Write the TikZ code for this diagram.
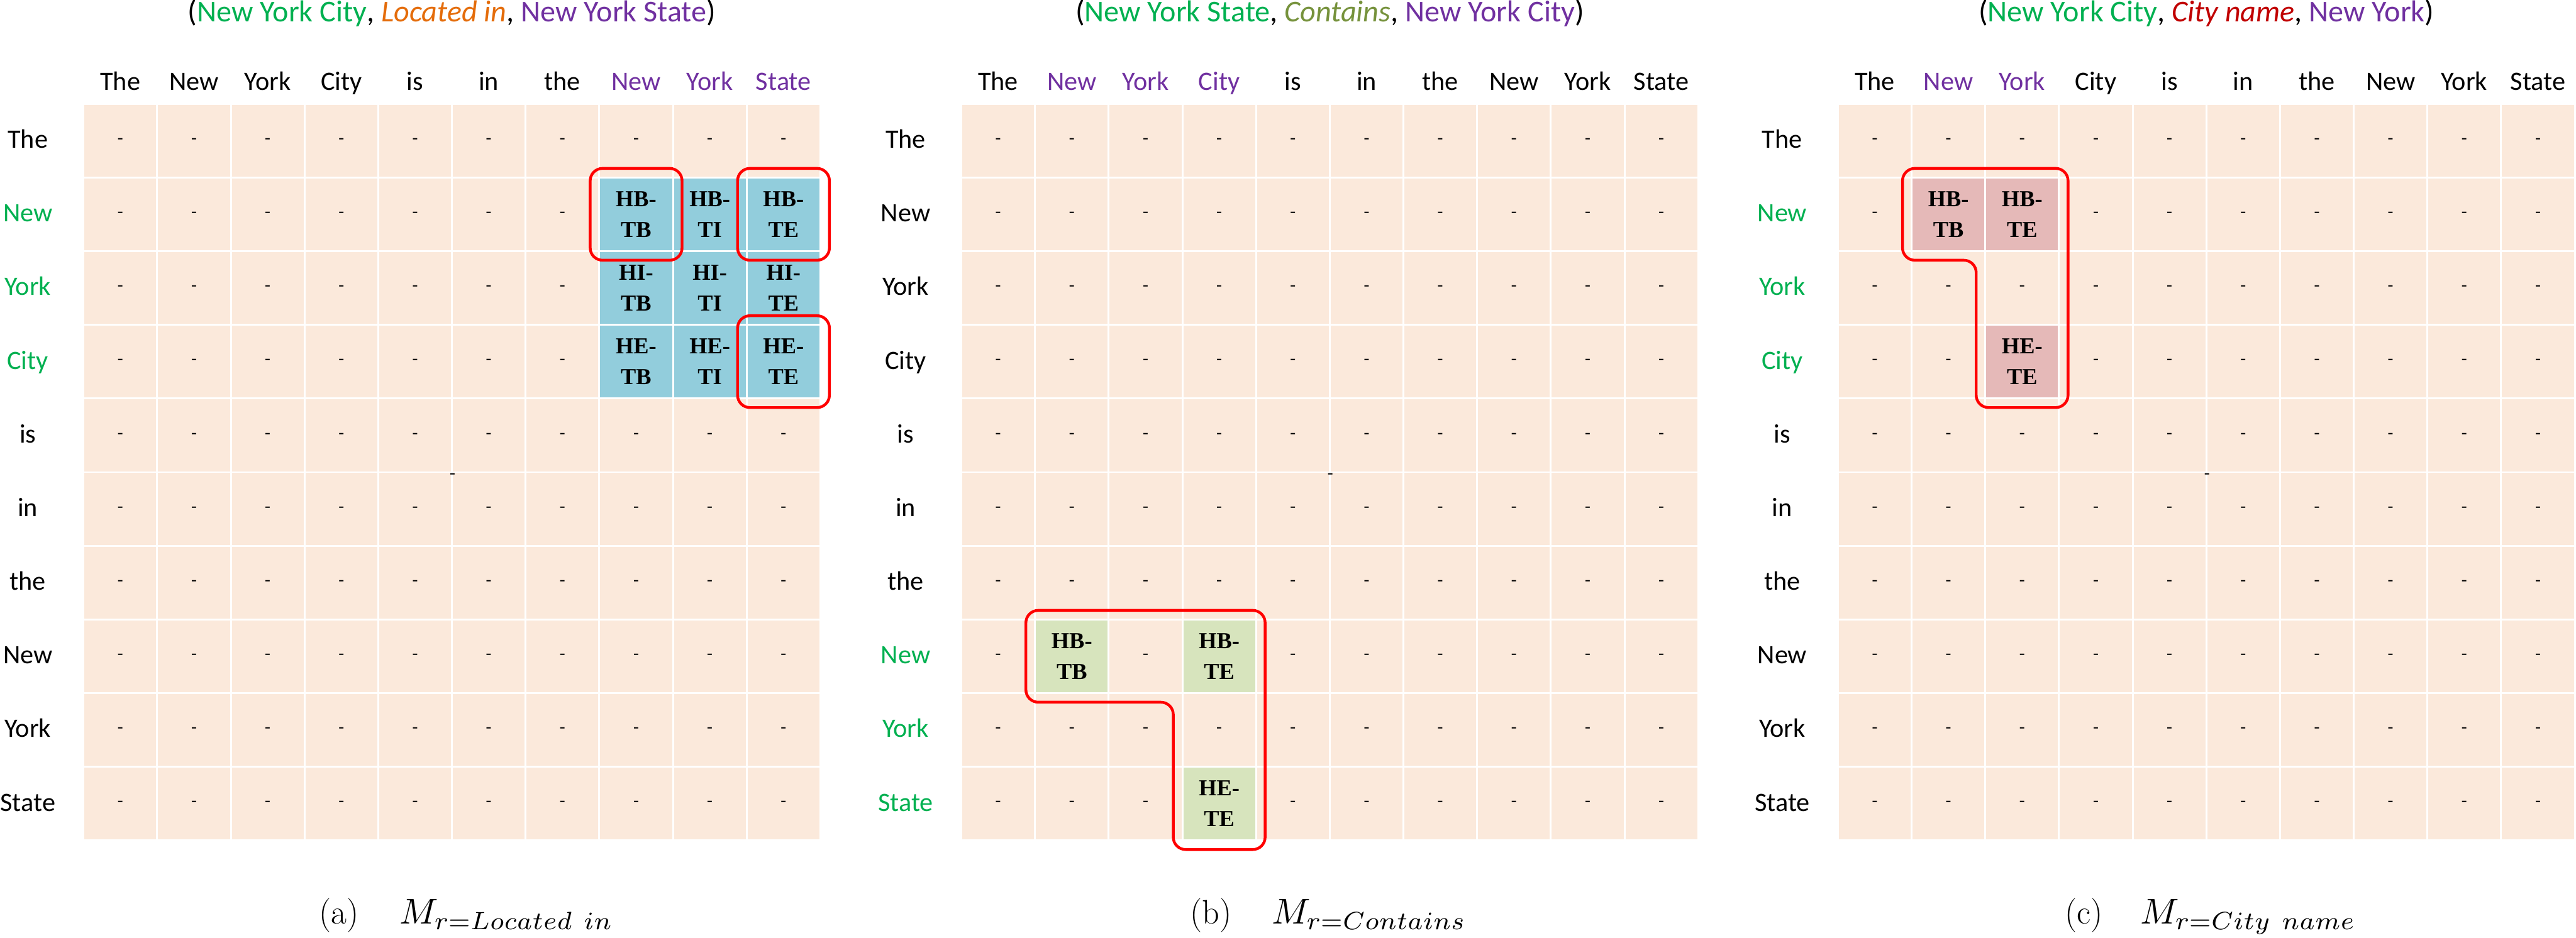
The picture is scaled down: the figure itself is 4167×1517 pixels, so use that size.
\documentclass[tikz,border=0pt]{standalone}
\usepackage{fontspec}
\usetikzlibrary{calc}
\newfontfamily\calib{Carlito}
\newfontfamily\timesf{Liberation Serif}
\definecolor{peach}{RGB}{251,233,219}
\definecolor{cblue}{RGB}{146,205,220}
\definecolor{cgreen}{RGB}{215,228,189}
\definecolor{cpink}{RGB}{229,185,184}
\definecolor{tgreen}{HTML}{00B050}
\definecolor{tpurple}{HTML}{7030A0}
\definecolor{torange}{HTML}{E46C0A}
\definecolor{tolive}{HTML}{76923C}
\definecolor{tdred}{HTML}{C00000}
\tikzset{
 cellbase/.style={rectangle, inner sep=0pt, minimum width=116.2pt, minimum height=116.2pt, fill=peach},
 dashcell/.style={cellbase, font=\timesf\fontsize{27}{30}\selectfont},
 tagcell/.style={cellbase, align=center, font=\timesf\bfseries\fontsize{37}{50}\selectfont},
 straydash/.style={inner sep=0pt, font=\timesf\fontsize{27}{30}\selectfont},
 lbl/.style={font=\calib\fontsize{43}{50}\selectfont, anchor=base, inner sep=0pt},
 ttl/.style={font=\calib\fontsize{49}{55}\selectfont, anchor=base, inner sep=0pt},
 redbox/.style={draw=red, line width=4.5pt, rounded corners=20pt},
 caplbl/.style={anchor=base west, inner sep=0pt, font=\fontsize{55}{60}\selectfont},
 capmath/.style={anchor=base west, inner sep=0pt},
}
\newcommand{\capm}[1]{\scalebox{5.8}{$#1$}}
\begin{document}
\begin{tikzpicture}[x=1pt,y=-1pt]
\useasboundingbox (0,0) rectangle (4167,1517);
\def\P{119.2}
\def\T{168}
% ---------------- panel (a) ----------------
\def\La{135}
\foreach \ri in {0,...,9}{
  \foreach \ci in {0,...,9}{
    \pgfmathtruncatemacro\spc{(\ri>0)*(\ri<4)*(\ci>6)}
    \ifnum\spc=0
      \node[dashcell] (a-\ri-\ci) at ({\La+(\ci+0.5)*\P},{\T+(\ri+0.5)*\P}) {-};
    \fi
  }
}
\foreach \ri/\hh in {1/HB,2/HI,3/HE}{
  \foreach \ci/\tt in {7/TB,8/TI,9/TE}{
    \node[tagcell, fill=cblue] (a-\ri-\ci) at ({\La+(\ci+0.5)*\P},{\T+(\ri+0.5)*\P}) {\hh-\\\tt};
  }
}
\foreach \cl/\w [count=\i from 0] in {black/The,black/New,black/York,black/City,black/is,black/in,black/the,tpurple/New,tpurple/York,tpurple/State}{
  \node[lbl, text=\cl] (a-col-\i) at ({\La+(\i+0.5)*\P},146) {\w};
}
\foreach \cl/\w [count=\i from 0] in {black/The,tgreen/New,tgreen/York,tgreen/City,black/is,black/in,black/the,black/New,black/York,black/State}{
  \node[lbl, text=\cl] (a-row-\i) at ({\La-90},{\T+(\i+0.5)*\P+12}) {\w};
}
\node[ttl] (a-title) at (731,35) {(\textcolor{tgreen}{New York City}, \textcolor{torange}{\itshape Located in}, \textcolor{tpurple}{New York State})};
\node[straydash] (a-stray) at (732,770) {-};
\draw[redbox] ($(a-1-7.north west)+(-16,-16)$) rectangle ($(a-1-7.south east)+(16,16)$);
\draw[redbox] ($(a-1-9.north west)+(-16,-16)$) rectangle ($(a-1-9.south east)+(16,16)$);
\draw[redbox] ($(a-3-9.north west)+(-16,-16)$) rectangle ($(a-3-9.south east)+(16,16)$);
\node[caplbl] (a-cap) at (516,1495) {(a)};
\node[capmath] (a-capm) at (646,1495) {\capm{M_{r=Located\ in}}};
% ---------------- panel (b) ----------------
\def\Lb{1555}
\foreach \ri in {0,...,9}{
  \foreach \ci in {0,...,9}{
    \pgfmathtruncatemacro\spc{(\ri==7)*(\ci==1)+(\ri==7)*(\ci==3)+(\ri==9)*(\ci==3)}
    \ifnum\spc=0
      \node[dashcell] (b-\ri-\ci) at ({\Lb+(\ci+0.5)*\P},{\T+(\ri+0.5)*\P}) {-};
    \fi
  }
}
\node[tagcell, fill=cgreen] (b-7-1) at ({\Lb+1.5*\P},{\T+7.5*\P}) {HB-\\TB};
\node[tagcell, fill=cgreen] (b-7-3) at ({\Lb+3.5*\P},{\T+7.5*\P}) {HB-\\TE};
\node[tagcell, fill=cgreen] (b-9-3) at ({\Lb+3.5*\P},{\T+9.5*\P}) {HE-\\TE};
\foreach \cl/\w [count=\i from 0] in {black/The,tpurple/New,tpurple/York,tpurple/City,black/is,black/in,black/the,black/New,black/York,black/State}{
  \node[lbl, text=\cl] (b-col-\i) at ({\Lb+(\i+0.5)*\P},146) {\w};
}
\foreach \cl/\w [count=\i from 0] in {black/The,black/New,black/York,black/City,black/is,black/in,black/the,tgreen/New,tgreen/York,tgreen/State}{
  \node[lbl, text=\cl] (b-row-\i) at ({\Lb-90},{\T+(\i+0.5)*\P+12}) {\w};
}
\node[ttl] (b-title) at (2151,35) {(\textcolor{tgreen}{New York State}, \textcolor{tolive}{\itshape Contains}, \textcolor{tpurple}{New York City})};
\node[straydash] (b-stray) at (2152,770) {-};
\draw[redbox] ($(b-7-1.north west)+(-16,-16)$) -- ($(b-7-3.north east)+(16,-16)$) -- ($(b-9-3.south east)+(16,16)$) -- ($(b-9-3.south west)+(-16,16)$) -- ($(b-7-3.south west)+(-16,16)$) -- ($(b-7-1.south west)+(-16,16)$) -- cycle;
\node[caplbl] (b-cap) at (1925,1495) {(b)};
\node[capmath] (b-capm) at (2057,1495) {\capm{M_{r=Contains}}};
% ---------------- panel (c) ----------------
\def\Lc{2973}
\foreach \ri in {0,...,9}{
  \foreach \ci in {0,...,9}{
    \pgfmathtruncatemacro\spc{(\ri==1)*(\ci==1)+(\ri==1)*(\ci==2)+(\ri==3)*(\ci==2)}
    \ifnum\spc=0
      \node[dashcell] (c-\ri-\ci) at ({\Lc+(\ci+0.5)*\P},{\T+(\ri+0.5)*\P}) {-};
    \fi
  }
}
\node[tagcell, fill=cpink] (c-1-1) at ({\Lc+1.5*\P},{\T+1.5*\P}) {HB-\\TB};
\node[tagcell, fill=cpink] (c-1-2) at ({\Lc+2.5*\P},{\T+1.5*\P}) {HB-\\TE};
\node[tagcell, fill=cpink] (c-3-2) at ({\Lc+2.5*\P},{\T+3.5*\P}) {HE-\\TE};
\foreach \cl/\w [count=\i from 0] in {black/The,tpurple/New,tpurple/York,black/City,black/is,black/in,black/the,black/New,black/York,black/State}{
  \node[lbl, text=\cl] (c-col-\i) at ({\Lc+(\i+0.5)*\P},146) {\w};
}
\foreach \cl/\w [count=\i from 0] in {black/The,tgreen/New,tgreen/York,tgreen/City,black/is,black/in,black/the,black/New,black/York,black/State}{
  \node[lbl, text=\cl] (c-row-\i) at ({\Lc-90},{\T+(\i+0.5)*\P+12}) {\w};
}
\node[ttl] (c-title) at (3569,35) {(\textcolor{tgreen}{New York City}, \textcolor{tdred}{\itshape City name}, \textcolor{tpurple}{New York})};
\node[straydash] (c-stray) at (3570,770) {-};
\draw[redbox] ($(c-1-1.north west)+(-16,-16)$) -- ($(c-1-2.north east)+(16,-16)$) -- ($(c-3-2.south east)+(16,16)$) -- ($(c-3-2.south west)+(-16,16)$) -- ($(c-1-2.south west)+(-16,16)$) -- ($(c-1-1.south west)+(-16,16)$) -- cycle;
\node[caplbl] (c-cap) at (3340,1495) {(c)};
\node[capmath] (c-capm) at (3462,1495) {\capm{M_{r=City\ name}}};
\end{tikzpicture}
\end{document}
